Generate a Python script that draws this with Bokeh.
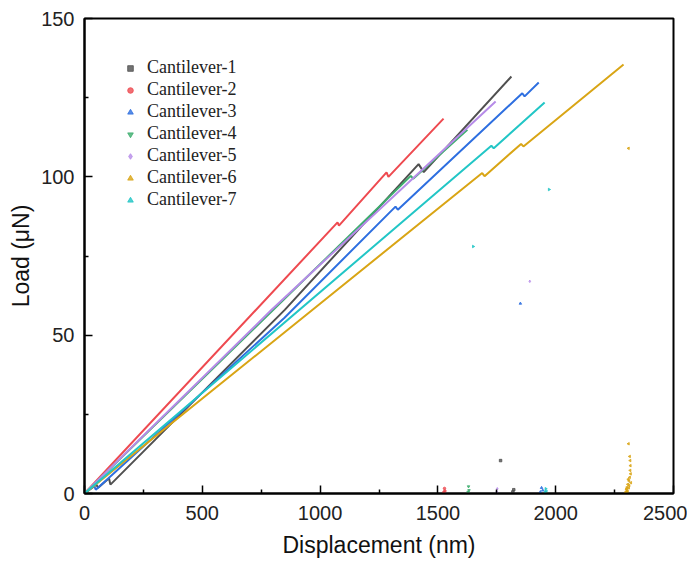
import math
from bokeh.plotting import figure
from bokeh.models import FixedTicker, Legend, LegendItem, Range1d
from bokeh.embed import file_html
from bokeh.resources import INLINE

# ---------------- data ----------------
labels = ["Cantilever-1", "Cantilever-2", "Cantilever-3", "Cantilever-4",
          "Cantilever-5", "Cantilever-6", "Cantilever-7"]
colors = ["#505050", "#EE4A50", "#2E6FE0", "#3DAE6E", "#B68BE8", "#D9A515", "#22C6C6"]
markers = ["square", "circle", "triangle", "inverted_triangle", "diamond", "triangle", "triangle"]
angles = [0, 0, 0, 0, 0, math.pi / 2, -math.pi / 2]

# loading curves (displacement nm, load uN)
c1_x = [0, 50, 58, 104, 110, 850, 1418, 1440, 1812]
c1_y = [0, 2.8, 1.8, 4.8, 2.8, 58.0, 104.0, 101.5, 131.7]
c2_x = [0, 1074, 1080, 1282, 1290, 1524]
c2_y = [0, 85.6, 84.6, 101.4, 100.0, 118.4]
c3_x = [0, 40, 48, 849, 1320, 1330, 1858, 1868, 1928]
c3_y = [0, 2.5, 1.2, 55.5, 90.6, 89.6, 126.4, 125.4, 129.8]
c4_x = [0, 1385, 1395, 1625]
c4_y = [0, 100.3, 99.4, 114.9]
c5_x = [0, 794, 1745]
c5_y = [0, 58.0, 123.8]
c6_x = [0, 1688, 1698, 1853, 1863, 2288]
c6_y = [0, 101.2, 100.2, 110.4, 109.6, 135.5]
c7_x = [0, 1727, 1737, 1953]
c7_y = [0, 109.8, 109.0, 123.5]

# scattered (unloading / tail) points
d1_x = [1818, 1822, 1766]
d1_y = [0.5, 1.2, 10.4]
d2_x = [1525, 1528, 1530]
d2_y = [0.4, 1.6, 0.8]
d3_x = [1935, 1940, 1945, 1850]
d3_y = [0.5, 1.8, 1.0, 60.0]
d4_x = [1628, 1630, 1632]
d4_y = [0.5, 2.2, 1.0]
d5_x = [1750, 1752, 1890]
d5_y = [0.5, 1.5, 67.0]
d6_x = [2309, 2314, 2316, 2317, 2316, 2318, 2314, 2311, 2319, 2306, 2303, 2300,
        2305, 2303, 2310, 2312, 2298, 2301, 2308, 2296, 2309]
d6_y = [15.7, 11.7, 10.4, 8.8, 7.3, 6.2, 5.1, 4.0, 3.4, 2.9, 2.0, 1.2,
        0.8, 0.3, 1.8, 2.5, 0.5, 1.5, 4.5, 0.2, 109.0]
d7_x = [1955, 1958, 1960, 1972, 1650]
d7_y = [0.5, 1.5, 0.8, 96.0, 78.0]

curves = [(c1_x, c1_y), (c2_x, c2_y), (c3_x, c3_y), (c4_x, c4_y),
          (c5_x, c5_y), (c6_x, c6_y), (c7_x, c7_y)]
dots = [(d1_x, d1_y), (d2_x, d2_y), (d3_x, d3_y), (d4_x, d4_y),
        (d5_x, d5_y), (d6_x, d6_y), (d7_x, d7_y)]

x_ticks = [0, 500, 1000, 1500, 2000, 2500]
x_minor = [250, 750, 1250, 1750, 2250]
y_ticks = [0, 50, 100, 150]
y_minor = [25, 75, 125]

# ---------------- figure ----------------
p = figure(frame_width=589, frame_height=475, output_backend="svg",
           toolbar_location=None, x_range=Range1d(0, 2500), y_range=Range1d(0, 150),
           min_border_left=84, min_border_top=18, min_border_right=14,
           min_border_bottom=70)
p.background_fill_color = "white"
p.border_fill_color = "white"
p.grid.visible = False
p.outline_line_color = "black"
p.outline_line_width = 2

for ax, t, m in [(p.xaxis[0], x_ticks, x_minor), (p.yaxis[0], y_ticks, y_minor)]:
    ax.ticker = FixedTicker(ticks=t, minor_ticks=m)
    ax.axis_line_width = 2
    ax.axis_line_color = "black"
    ax.major_tick_in = 8
    ax.major_tick_out = 0
    ax.minor_tick_in = 4
    ax.minor_tick_out = 0
    ax.major_tick_line_width = 1.5
    ax.minor_tick_line_width = 1.5
    ax.major_label_text_font = "Liberation Sans"
    ax.major_label_text_font_size = "20px"
    ax.major_label_text_color = "#222222"
    ax.axis_label_text_font = "Liberation Sans"
    ax.axis_label_text_font_size = "23px"
    ax.axis_label_text_font_style = "normal"
    ax.axis_label_text_color = "#111111"

p.xaxis.axis_label = "Displacement (nm)"
p.yaxis.axis_label = "Load (μN)"
p.xaxis.major_label_standoff = 12
p.yaxis.major_label_standoff = 10
p.xaxis.axis_label_standoff = 9
p.yaxis.axis_label_standoff = 4

items = []
for i in range(7):
    cx, cy = curves[i]
    dx, dy = dots[i]
    p.line(cx, cy, line_color=colors[i], line_width=2)
    r = p.scatter(dx, dy, marker=markers[i], size=2.5, angle=angles[i],
                  fill_color=colors[i], line_color=colors[i], alpha=0.8)
    items.append(LegendItem(label=labels[i], renderers=[r]))

legend = Legend(items=items, location="top_left")
legend.border_line_color = None
legend.background_fill_alpha = 0
legend.label_text_font = "Liberation Serif"
legend.label_text_font_size = "18px"
legend.label_text_color = "#222222"
legend.glyph_width = 14
legend.glyph_height = 14
legend.label_height = 20
legend.spacing = 1
legend.margin = 39
legend.padding = 6
legend.label_standoff = 10
p.add_layout(legend)

open("out.html", "w").write(file_html(p, INLINE))
